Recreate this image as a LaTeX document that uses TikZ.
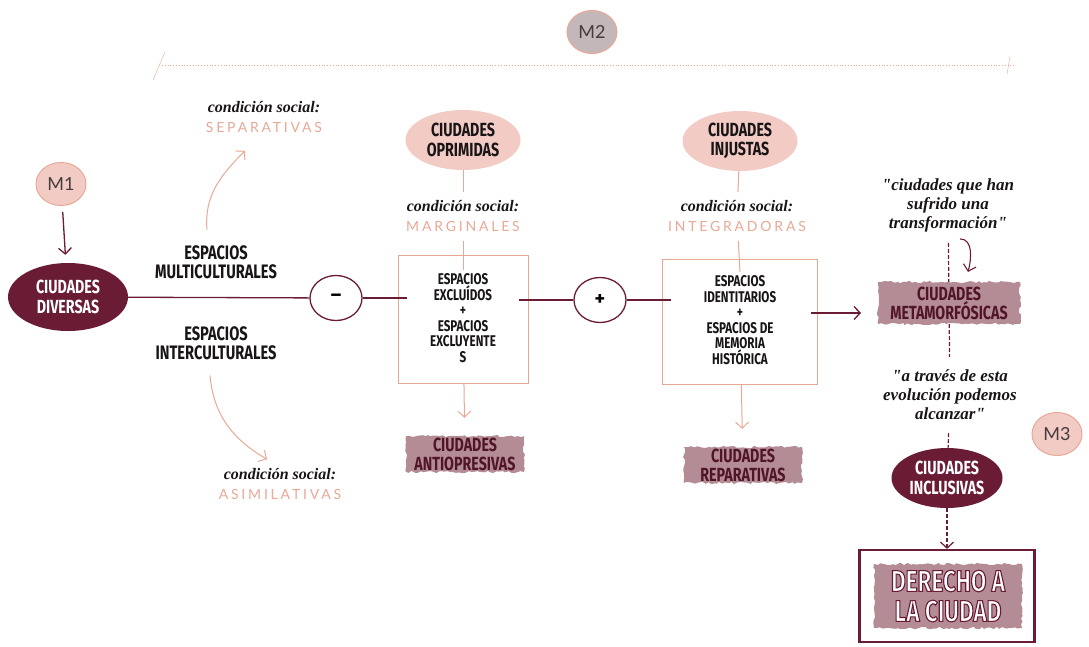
\documentclass[tikz,border=0pt]{standalone}
\usepackage{fontspec}
\usetikzlibrary{shapes.geometric,arrows.meta,decorations.pathmorphing}
\setmainfont{Fira Sans}
\newfontfamily\capsfont[FakeStretch=0.75]{Fira Sans}
\newfontfamily\handfont{Liberation Serif}
\newfontfamily\spacedfont[LetterSpace=20]{Lato}
\newfontfamily\badgefont{Lato}

\definecolor{wine}{RGB}{106,28,52}
\definecolor{salmon}{RGB}{232,168,150}
\definecolor{blush}{RGB}{242,204,196}
\definecolor{mauve}{RGB}{180,140,150}
\definecolor{ash}{RGB}{196,183,186}
\definecolor{badgeink}{RGB}{70,58,62}
\definecolor{ink}{RGB}{25,20,22}

\newcommand{\soc}[1]{{\spacedfont\mdseries\upshape\fontsize{14}{20}\selectfont\color{salmon}#1}}
\newcommand{\hollow}[1]{\special{pdf:literal direct q 2 Tr 1.1 w 0.416 0.11 0.204 RG}#1\special{pdf:literal direct Q}}

\tikzset{
  blob/.style={ellipse, inner sep=0pt, minimum width=115, minimum height=60, align=center,
    font=\capsfont\bfseries\fontsize{19}{19.5}\selectfont},
  brush/.style={fill=mauve, text=wine!75!black, align=center, minimum width=118, minimum height=36,
    inner sep=0pt, decorate, decoration={random steps, segment length=3pt, amplitude=1.2pt},
    font=\capsfont\bfseries\fontsize{19}{19}\selectfont},
  badge/.style={ellipse, draw=salmon, line width=1pt, minimum width=50, minimum height=43,
    font=\badgefont\fontsize{18}{18}\selectfont, text=badgeink},
  caps/.style={align=center, text=ink, font=\capsfont\bfseries\fontsize{19.5}{19.5}\selectfont},
  spacetext/.style={align=center, text=ink, font=\capsfont\bfseries\fontsize{15.5}{15.5}\selectfont},
  spacebox/.style={draw=salmon, line width=1pt},
  cond/.style={align=center, text=ink, inner sep=1pt, font=\handfont\bfseries\itshape\fontsize{16}{20}\selectfont},
  quote/.style={align=center, text=ink, inner sep=1pt, font=\handfont\bfseries\itshape\fontsize{17}{19}\selectfont},
  sign/.style={ellipse, draw=wine, line width=1.3pt, fill=white, minimum width=52, minimum height=45,
    font=\bfseries\fontsize{20}{20}\selectfont},
  wineline/.style={wine, line width=1.3pt},
  paleline/.style={salmon, line width=1pt},
  trail/.style={wine, line width=1.2pt, dash pattern=on 4pt off 2pt},
  openhead/.style={-{Straight Barb[length=6pt,width=13pt]}}
}

\begin{document}
\begin{tikzpicture}[x=1pt, y=-1pt]
\useasboundingbox (0,0) rectangle (1089,646);

% timeline M2
\node[badge, fill=ash] (m2) at (592,32) {M2};
\coordinate (lineL) at (162,65);
\coordinate (lineR) at (1015,65);
\draw[salmon, dotted, line width=0.8pt] (lineL) -- (lineR);
\draw[salmon, thin] (lineL) ++(-9,15) -- ++(12,-28);
\draw[salmon, thin] (lineR) ++(-5,-9) -- ++(-3,18);

% left part
\node[badge, fill=blush] (m1) at (61,184) {M1};
\node[blob, fill=wine, text=white, minimum width=120, minimum height=68] (diversas) at (68,297) {CIUDADES\\DIVERSAS};
\node[caps] (multi) at (216,262) {ESPACIOS\\MULTICULTURALES};
\node[caps] (inter) at (216,343) {ESPACIOS\\INTERCULTURALES};
\node[cond] (separ) at (264,117) {condición social:\\\soc{SEPARATIVAS}};
\node[cond] (asimil) at (280,484) {condición social:\\\soc{ASIMILATIVAS}};
\node[sign] (minus) at (336,298) {--};

\draw[wineline, openhead, shorten <=6pt, shorten >=8pt] (m1) -- (diversas);
\draw[wineline] (diversas) -- (minus);
\draw[paleline, openhead] ([xshift=-9pt,yshift=12pt]multi.north) to[out=95, in=225] ([xshift=-19pt,yshift=-17pt]separ.south);
\draw[paleline, openhead] ([xshift=-6pt,yshift=-12pt]inter.south) to[out=-85, in=150] ([xshift=-13pt,yshift=8pt]asimil.north);

% oprimidas
\node[blob, fill=blush, text=ink] (oprimidas) at (463,140) {CIUDADES\\OPRIMIDAS};
\node[cond] (margin) at (463,216) {condición social:\\\soc{MARGINALES}};
\node[spacebox, minimum width=130, minimum height=128] (exbox) at (463,319) {};
\node[spacetext] (extext) at (463,318) {ESPACIOS\\EXCLUÍDOS\\+\\ESPACIOS\\EXCLUYENTE\\S};
\node[brush] (antiop) at (465,454) {CIUDADES\\ANTIOPRESIVAS};
\node[sign] (plus) at (600,300) {+};

\draw[wineline] (minus) -- ([xshift=9pt]minus -| exbox.west);
\draw[wineline] ([xshift=-10pt]plus -| exbox.east) -- (plus);
\draw[paleline, shorten >=7pt] (oprimidas) -- (margin);
\draw[paleline, shorten <=8pt] (margin) -- (extext.north);
\draw[paleline, openhead, shorten >=18pt] (exbox) -- (antiop);

% injustas
\node[blob, fill=blush, text=ink] (injustas) at (740,141) {CIUDADES\\INJUSTAS};
\node[cond] (integr) at (737,216) {condición social:\\\soc{INTEGRADORAS}};
\node[spacebox, minimum width=155, minimum height=125] (idbox) at (740,322) {};
\node[spacetext] (idtext) at (740,320) {ESPACIOS\\IDENTITARIOS\\+\\ESPACIOS DE\\MEMORIA\\HISTÓRICA};
\node[brush] (repar) at (743,465) {CIUDADES\\REPARATIVAS};

\draw[wineline] (plus) -- ([xshift=9pt]plus -| idbox.west);
\draw[paleline, shorten >=7pt] (injustas) -- (integr);
\draw[paleline, shorten <=8pt] (integr) -- (idtext.north);
\draw[paleline, openhead, shorten >=18pt] (idbox) -- (repar);
\draw[wineline, openhead] ([xshift=-7pt,yshift=9pt]idbox.east) -- ++(50,0);

% right column
\node[quote] (trans) at (948,205) {"ciudades que han\\sufrido una\\transformación"};
\node[brush, minimum width=142, minimum height=42] (metam) at (949,303) {CIUDADES\\METAMORFÓSICAS};
\node[quote] (evol) at (950,395) {"a través de esta\\evolución podemos\\alcanzar"};
\node[badge, fill=blush] (m3) at (1057,434) {M3};
\node[blob, fill=wine, text=white, minimum width=111] (inclus) at (947,478) {CIUDADES\\INCLUSIVAS};
\node[draw=wine, line width=2.2pt, minimum width=175, minimum height=92] (derframe) at (947,596) {};
\node[brush, minimum width=148, minimum height=64, text=white, font=\capsfont\bfseries\fontsize{30}{30}\selectfont] (derecho) at (948,596) {\hollow{DERECHO A}\\\hollow{LA CIUDAD}};

\draw[trail, shorten <=10pt] (trans) -- (metam);
\draw[wine, line width=1.1pt, openhead] ([xshift=12pt,yshift=-6pt]trans.south) to[out=0, in=75] ++(8,33);
\draw[trail, shorten >=12pt] (metam) -- (evol);
\draw[trail, shorten <=12pt] (evol) -- (inclus);
\draw[trail, openhead] (inclus) -- (derframe);
\end{tikzpicture}
\end{document}
